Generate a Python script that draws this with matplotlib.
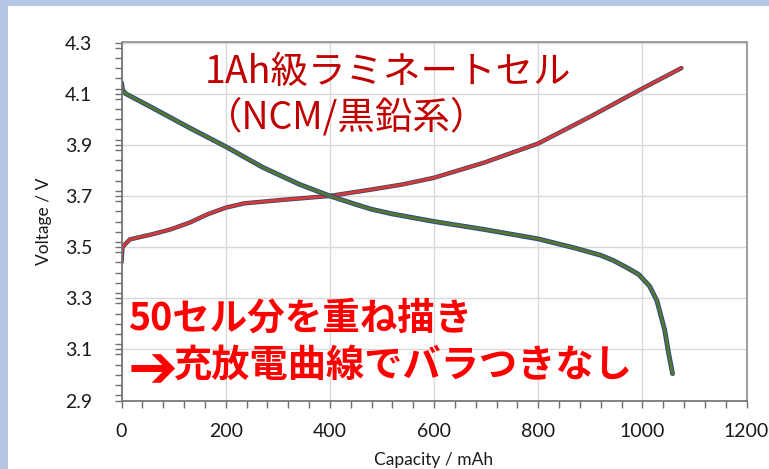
import matplotlib.pyplot as plt
from matplotlib.patches import Rectangle
from matplotlib.ticker import MultipleLocator

# 充電曲線 (capacity mAh, voltage V)
charge_cap = [0, 2, 16, 59, 94, 130, 165, 200, 236, 306, 400, 483, 540,
              600, 696, 800, 900, 1000, 1075]
charge_v = [3.44, 3.50, 3.53, 3.55, 3.569, 3.595, 3.628, 3.654, 3.671,
            3.684, 3.700, 3.726, 3.745, 3.771, 3.83, 3.905, 4.01, 4.12,
            4.20]

# 放電曲線
discharge_cap = [0, 2, 8, 59, 130, 200, 271, 342, 400, 448, 480, 519, 600,
                 696, 800, 873, 920, 944, 970, 993, 1014, 1028, 1043, 1050,
                 1058]
discharge_v = [4.143, 4.115, 4.10, 4.045, 3.967, 3.893, 3.812, 3.745, 3.70,
               3.668, 3.648, 3.630, 3.60, 3.569, 3.532, 3.495, 3.468, 3.448,
               3.42, 3.393, 3.347, 3.29, 3.175, 3.09, 3.005]

title_lines = ['1Ah級ラミネートセル', '（NCM/黒鉛系）']
note_lines = ['50セル分を重ね描き', '充放電曲線でバラつきなし']
arrow = '➔'

W, H = 769, 469
fig = plt.figure(figsize=(W / 100, H / 100), dpi=100, facecolor='#b4c7e7')
# 白い台紙 (左と上に水色の縁が残る)
fig.patches.append(Rectangle((8 / W, 0), 1, 1 - 6 / H, transform=fig.transFigure,
                             facecolor='white', edgecolor='none', zorder=-1))

ax = fig.add_axes([121.5 / W, 1 - 400.5 / H, 625 / W, 358 / H])
ax.set_facecolor('white')

# 50本重ね描きの雰囲気: 太い下地線 + 細い色線
ax.plot(charge_cap, charge_v, color='#3e4a63', lw=3.2, solid_capstyle='round',
        solid_joinstyle='round')
ax.plot(charge_cap, charge_v, color='#d9383a', lw=2.0, solid_joinstyle='round')
ax.plot(discharge_cap, discharge_v, color='#2f4a8c', lw=3.5, solid_capstyle='round',
        solid_joinstyle='round')
ax.plot(discharge_cap, discharge_v, color='#55792a', lw=2.0, solid_joinstyle='round')

ax.set_xlim(0, 1200)
ax.set_ylim(2.9, 4.3)
ax.xaxis.set_major_locator(MultipleLocator(200))
ax.xaxis.set_minor_locator(MultipleLocator(40))
ax.yaxis.set_minor_locator(MultipleLocator(0.04))
ax.set_yticks([2.9 + 0.2 * i for i in range(8)])
ax.set_yticklabels([f'{2.9 + 0.2 * i:.1f}' for i in range(8)])
ax.grid(True, which='major', color='#d9d9d9', lw=1)
ax.set_axisbelow(True)

for s in ax.spines.values():
    s.set_color('#8c8c8c')
    s.set_linewidth(1.2)
ax.spines['left'].set_color('#6f6f6f')
ax.spines['bottom'].set_color('#6f6f6f')
ax.tick_params(which='both', direction='out', length=5, width=1, color='#6f6f6f')
ax.tick_params(which='major', labelsize=14, labelcolor='#1a1a1a')
ax.tick_params(axis='y', which='major', pad=16)
ax.tick_params(axis='x', which='major', pad=11)
for lab in ax.get_xticklabels() + ax.get_yticklabels():
    lab.set_family('Lato')

ax.set_xlabel('Capacity / mAh', fontsize=12.5, family='Lato', color='#1a1a1a')
ax.set_ylabel('Voltage / V', fontsize=12.5, family='Lato', color='#1a1a1a')
ax.xaxis.set_label_coords(0.5, -0.166)
ax.yaxis.set_label_coords(-0.124, 0.5)
ax.xaxis.label.set_va('center')
ax.yaxis.label.set_va('center')

cjk = ['Noto Sans CJK JP', 'DejaVu Sans']
fig.text(205 / W, 1 - 73 / H, title_lines[0], fontsize=27, color='#c00000',
         family=cjk, va='center', ha='left')
fig.text(205 / W, 1 - 118 / H, title_lines[1], fontsize=27, color='#c00000',
         family=cjk, va='center', ha='left')
fig.text(128 / W, 1 - 318 / H, note_lines[0], fontsize=27, color='#ff0000',
         family=cjk, weight='bold', va='center', ha='left')
# 太い矢印は DejaVu Sans で大きめに
fig.text(128 / W, 1 - 387.5 / H, arrow, fontsize=43, color='#ff0000',
         family=['DejaVu Sans', 'Noto Sans CJK JP'], weight='bold',
         va='baseline', ha='left')
fig.text(174 / W, 1 - 365 / H, note_lines[1], fontsize=27.5, color='#ff0000',
         family=cjk, weight='bold', va='center', ha='left')

fig.savefig('out.png', dpi=100, facecolor=fig.get_facecolor())
